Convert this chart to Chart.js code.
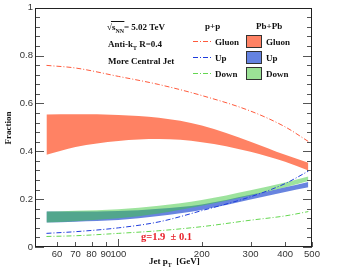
<!DOCTYPE html>
<html>
<head>
<meta charset="utf-8">
<script src="https://cdn.jsdelivr.net/npm/chart.js@4"></script>
<style>
  body { margin: 0; background: #fff; }
  canvas { display: block; }
</style>
</head>
<body>
<canvas id="chart" width="347" height="275"></canvas>
<script>
// jet pT points (GeV) and fractions
const ptValues = [55, 70, 100, 140, 200, 300, 400, 485];

const gluonPP = [0.759, 0.748, 0.713, 0.679, 0.633, 0.568, 0.502, 0.441];
const upPP    = [0.057, 0.064, 0.080, 0.105, 0.152, 0.210, 0.265, 0.317];
const downPP  = [0.044, 0.047, 0.057, 0.068, 0.085, 0.112, 0.130, 0.148];

const gluonPbHigh = [0.554, 0.555, 0.552, 0.540, 0.508, 0.440, 0.385, 0.352];
const gluonPbLow  = [0.385, 0.418, 0.443, 0.451, 0.438, 0.398, 0.356, 0.320];
const upPbHigh    = [0.148, 0.148, 0.150, 0.160, 0.178, 0.218, 0.250, 0.272];
const upPbLow     = [0.102, 0.106, 0.113, 0.130, 0.155, 0.198, 0.230, 0.250];
const downPbHigh  = [0.148, 0.151, 0.158, 0.172, 0.196, 0.237, 0.270, 0.295];
const downPbLow   = [0.102, 0.108, 0.120, 0.140, 0.172, 0.215, 0.250, 0.276];

const xTickValues = [60, 70, 80, 90, 100, 200, 300, 400, 500];
const yTickValues = [0, 0.2, 0.4, 0.6, 0.8, 1];

const GLUON_BAND = 'rgb(255,130,100)';
const UP_BAND = 'rgba(40,80,210,0.7)';
const DOWN_BAND = 'rgba(60,200,60,0.5)';
const GLUON_LINE = 'rgb(255,90,60)';
const UP_LINE = 'rgb(30,60,220)';
const DOWN_LINE = 'rgb(100,215,80)';

function pts(arr) {
  return arr.map((v, i) => ({ x: ptValues[i], y: v }));
}

function band(label, arr, color, fill, order) {
  return {
    label: label, data: pts(arr), borderWidth: 0, pointRadius: 0,
    borderColor: 'rgba(0,0,0,0)', backgroundColor: color,
    fill: fill, order: order, cubicInterpolationMode: 'monotone'
  };
}

function ppLine(label, arr, color) {
  return {
    label: label, data: pts(arr), borderWidth: 1, pointRadius: 0,
    borderColor: color, borderDash: [5, 2, 1, 2], fill: false,
    order: 0, cubicInterpolationMode: 'monotone'
  };
}

const datasets = [
  band('gluonHigh', gluonPbHigh, GLUON_BAND, '+1', 3),
  band('gluonLow', gluonPbLow, GLUON_BAND, false, 3),
  band('upHigh', upPbHigh, UP_BAND, '+1', 2),
  band('upLow', upPbLow, UP_BAND, false, 2),
  band('downHigh', downPbHigh, DOWN_BAND, '+1', 1),
  band('downLow', downPbLow, DOWN_BAND, false, 1),
  ppLine('Gluon', gluonPP, GLUON_LINE),
  ppLine('Up', upPP, UP_LINE),
  ppLine('Down', downPP, DOWN_LINE)
];

const SERIF = '"Liberation Serif", "Times New Roman", serif';

function line(ctx, x1, y1, x2, y2) {
  ctx.beginPath(); ctx.moveTo(x1, y1); ctx.lineTo(x2, y2); ctx.stroke();
}

// draws text pieces with optional subscripts, returns end x
function rich(ctx, parts, x, y, size) {
  let cx = x;
  parts.forEach(p => {
    const s = p.sub ? size * 0.65 : size;
    ctx.font = 'bold ' + s + 'px ' + SERIF;
    ctx.fillText(p.t, cx, p.sub ? y + size * 0.3 : y);
    cx += ctx.measureText(p.t).width;
  });
  return cx;
}

const decor = {
  id: 'decor',
  afterDraw(chart) {
    const { ctx, chartArea: a, scales: { x, y } } = chart;
    ctx.save();
    // inside ticks
    ctx.strokeStyle = '#555';
    ctx.lineWidth = 1;
    for (let i = 0; i <= 25; i++) {
      const v = i * 0.04;
      const py = Math.round(y.getPixelForValue(v)) + 0.5;
      const L = i % 5 === 0 ? 9 : 5;
      line(ctx, a.left, py, a.left + L, py);
      line(ctx, a.right, py, a.right - L, py);
    }
    xTickValues.forEach(v => {
      const px = Math.round(x.getPixelForValue(v)) + 0.5;
      const L = v === 100 ? 8 : 5;
      line(ctx, px, a.bottom, px, a.bottom - L);
    });
    // frame
    ctx.strokeStyle = '#222';
    ctx.strokeRect(Math.round(a.left) + 0.5, Math.round(a.top) + 0.5,
      Math.round(a.right - a.left) - 1, Math.round(a.bottom - a.top) - 1);

    // annotation text
    ctx.fillStyle = '#111';
    ctx.textBaseline = 'alphabetic';
    ctx.textAlign = 'left';
    ctx.font = 'bold 9px ' + SERIF;
    ctx.fillText('\u221A', 107, 30);
    const sx = 107 + ctx.measureText('\u221A').width;
    const ex = rich(ctx, [{ t: 's' }, { t: 'NN', sub: true }], sx, 30, 9);
    ctx.strokeStyle = '#111';
    line(ctx, sx - 1, 21.5, ex + 0.5, 21.5);
    rich(ctx, [{ t: '= 5.02 TeV' }], ex, 30, 9);
    rich(ctx, [{ t: 'Anti-k' }, { t: 'T', sub: true }, { t: ' R=0.4' }], 108, 47, 9);
    rich(ctx, [{ t: 'More Central Jet' }], 108, 64, 9);

    // legend
    ctx.font = 'bold 9px ' + SERIF;
    ctx.fillText('p+p', 205, 29);
    ctx.fillText('Pb+Pb', 256, 29);
    const rows = [
      { name: 'Gluon', line: GLUON_LINE, box: GLUON_BAND },
      { name: 'Up', line: UP_LINE, box: 'rgb(100,130,225)' },
      { name: 'Down', line: DOWN_LINE, box: 'rgb(155,225,150)' }
    ];
    rows.forEach((r, i) => {
      const cy = 41.5 + i * 16;
      ctx.save();
      ctx.strokeStyle = r.line;
      ctx.lineWidth = 1;
      ctx.setLineDash([5, 2, 1, 2]);
      line(ctx, 193, cy, 211, cy);
      ctx.restore();
      ctx.fillStyle = r.box;
      ctx.fillRect(246.5, cy - 6, 15, 12);
      ctx.strokeStyle = '#333';
      ctx.strokeRect(246.5, cy - 6, 15, 12);
      ctx.fillStyle = '#111';
      ctx.font = 'bold 9px ' + SERIF;
      ctx.fillText(r.name, 215, cy + 3.5);
      ctx.fillText(r.name, 266, cy + 3.5);
    });

    // g value
    ctx.fillStyle = '#e8202a';
    ctx.font = 'bold 10.5px ' + SERIF;
    ctx.fillText('g=1.9  \u00B1 0.1', 141, 240);

    // axis titles
    ctx.fillStyle = '#111';
    rich(ctx, [{ t: 'Jet p' }, { t: 'T', sub: true }, { t: '  [GeV]' }], 149, 264, 9);
    ctx.save();
    ctx.translate(11, 128);
    ctx.rotate(-Math.PI / 2);
    ctx.textAlign = 'center';
    ctx.font = 'bold 9px ' + SERIF;
    ctx.fillText('Fraction', 0, 0);
    ctx.restore();
    ctx.restore();
  }
};

new Chart(document.getElementById('chart'), {
  type: 'line',
  data: { datasets: datasets },
  options: {
    responsive: false,
    animation: false,
    layout: { padding: { top: 6, right: 35, left: 0, bottom: 0 } },
    plugins: { legend: { display: false }, tooltip: { enabled: false } },
    scales: {
      x: {
        type: 'logarithmic', min: 50, max: 500,
        grid: { display: false, drawTicks: false },
        border: { display: false },
        afterBuildTicks: s => { s.ticks = xTickValues.map(v => ({ value: v })); },
        afterFit: s => { s.height = 28; },
        ticks: {
          autoSkip: false, maxRotation: 0, padding: 2, color: '#333',
          font: { family: '"Liberation Sans", Arial, sans-serif', size: 9.5 },
          callback: v => String(v)
        }
      },
      y: {
        min: 0, max: 1,
        grid: { display: false, drawTicks: false },
        border: { display: false },
        afterBuildTicks: s => { s.ticks = yTickValues.map(v => ({ value: v })); },
        afterFit: s => { s.width = 35; },
        ticks: {
          padding: 2, color: '#333',
          font: { family: '"Liberation Sans", Arial, sans-serif', size: 9.5 },
          callback: v => String(Math.round(v * 10) / 10)
        }
      }
    }
  },
  plugins: [decor]
});
</script>
</body>
</html>
